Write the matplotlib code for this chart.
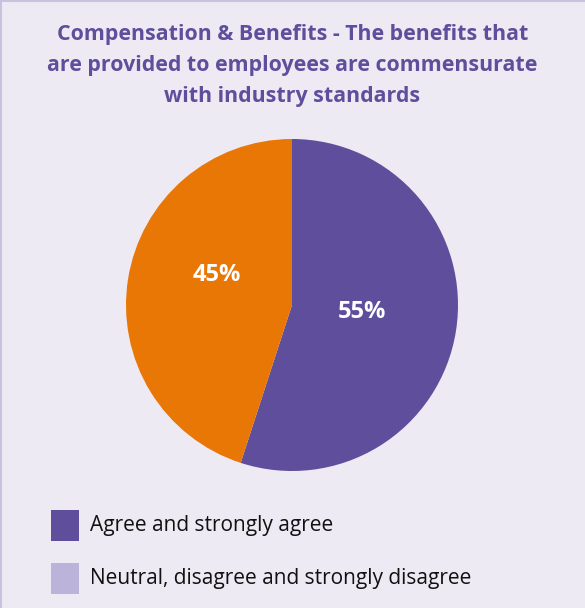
import matplotlib
matplotlib.use("Agg")
import matplotlib.pyplot as plt
from matplotlib.patches import Rectangle
from matplotlib.lines import Line2D

title = "Compensation & Benefits - The benefits that\nare provided to employees are commensurate\nwith industry standards"
categories = ["Agree and strongly agree", "Neutral, disagree and strongly disagree"]
values = [55, 45]
wedge_colors = ["#5F4E9B", "#E97706"]
legend_colors = ["#5F4E9B", "#BBB3D9"]

bg = "#EEEAF4"
title_color = "#5F4E9B"

fig = plt.figure(figsize=(5.85, 6.08), dpi=100, facecolor=bg)

# thin frame on the top and left edges
fig.add_artist(Line2D([0, 1], [0.999, 0.999], transform=fig.transFigure, color="#C9C2DF", lw=1.5))
fig.add_artist(Line2D([0.001, 0.001], [0, 1], transform=fig.transFigure, color="#C9C2DF", lw=1.5))

fig.text(0.5, 0.96, title, ha="center", va="top", fontsize=15.4, fontweight="bold",
         color=title_color, family="Open Sans", linespacing=1.6)

ax = fig.add_axes([126 / 585, 1 - 471 / 608, 332 / 585, 332 / 608])
ax.set_facecolor(bg)
wedges, _ = ax.pie(values, colors=wedge_colors, startangle=90, counterclock=False,
                   radius=1.0, wedgeprops=dict(linewidth=0))
ax.set_xlim(-1, 1)
ax.set_ylim(-1, 1)
ax.set_aspect("equal")
ax.axis("off")

label_pos = [(0.42, -0.045), (-0.45, 0.18)]
for v, (x, y) in zip(values, label_pos):
    ax.text(x, y, f"{v}%", ha="center", va="center", color="white", fontsize=17,
            fontweight="bold", family="Open Sans")

# legend
ys = [1 - 525.5 / 608, 1 - 578.5 / 608]
for lab, col, y in zip(categories, legend_colors, ys):
    fig.add_artist(Rectangle((51 / 585, y - 15.5 / 608), 28 / 585, 31 / 608,
                             transform=fig.transFigure, facecolor=col, edgecolor="none"))
    fig.text(90 / 585, y, lab, ha="left", va="center", fontsize=15, color="#111111",
             family="Open Sans")

fig.savefig("out.png", dpi=100, facecolor=bg)
